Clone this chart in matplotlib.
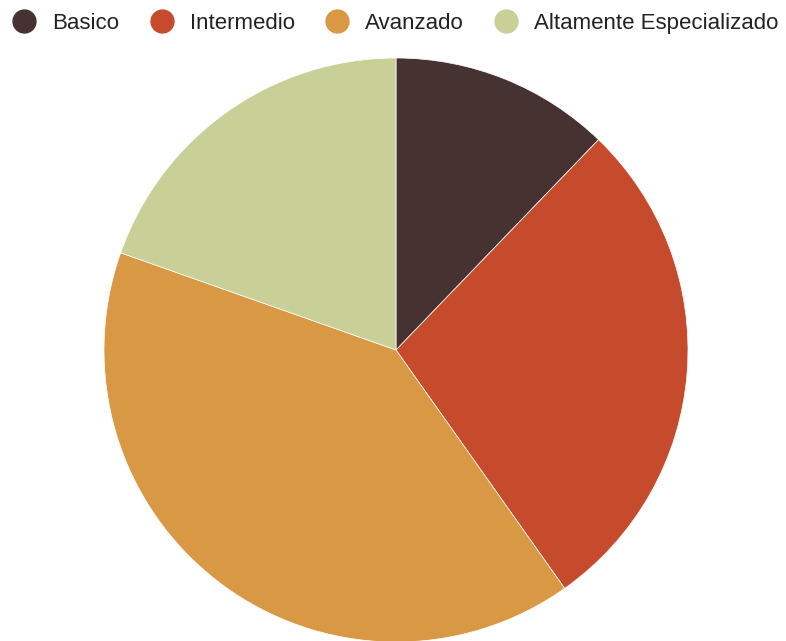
import matplotlib
matplotlib.use("Agg")
import matplotlib.pyplot as plt
from matplotlib.lines import Line2D

categories = ["Basico", "Intermedio", "Avanzado", "Altamente Especializado"]
values = [12.2, 28.0, 40.2, 19.6]
colors = ["#463231", "#C64B2C", "#D99844", "#C8D097"]

plt.rcParams['font.family'] = ['Liberation Sans', 'DejaVu Sans']

W, H = 786, 641
fig = plt.figure(figsize=(W / 100, H / 100), dpi=100)
ax = fig.add_axes([0, 0, 1, 1])

cx, cy, r = 396, H - 350, 292
ax.pie(values, colors=colors, startangle=90, counterclock=False,
       center=(cx, cy), radius=r, frame=True,
       wedgeprops=dict(edgecolor="white", linewidth=0.5))
ax.set_xlim(0, W)
ax.set_ylim(0, H)
ax.set_aspect('equal', adjustable='box')
ax.axis('off')

handles = [Line2D([], [], linestyle='none', marker='o', markersize=16.5,
                  markerfacecolor=c, markeredgecolor=c) for c in colors]
leg = fig.legend(handles, categories, loc='upper left',
                 bbox_to_anchor=(13 / W, 1 - 13 / H), ncol=4, frameon=False,
                 fontsize=16, handlelength=1.0, handletextpad=0.77,
                 columnspacing=1.4, borderpad=0, borderaxespad=0)
for t in leg.get_texts():
    t.set_color("#222222")

fig.savefig("out.png", dpi=100)
